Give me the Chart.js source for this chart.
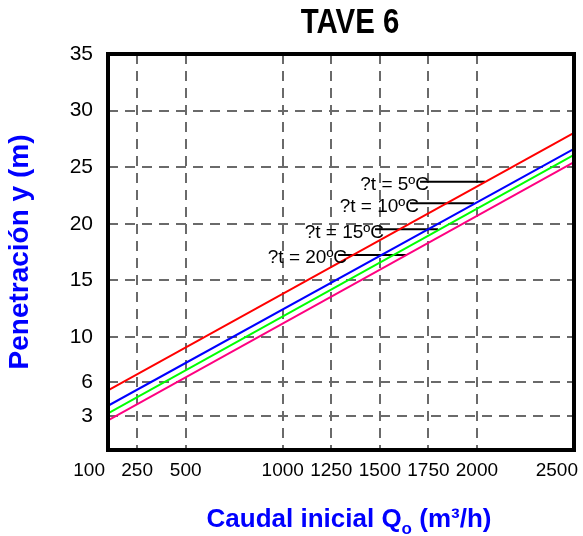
<!DOCTYPE html>
<html>
<head>
<meta charset="utf-8">
<title>TAVE 6</title>
<script src="https://cdn.jsdelivr.net/npm/chart.js@4.4.1/dist/chart.umd.min.js"></script>
<style>
  html, body { margin: 0; padding: 0; background: #fff; }
  #wrap { width: 583px; height: 536px; }
</style>
</head>
<body>
<div id="wrap"><canvas id="taveChart" width="583" height="536"></canvas></div>
<script>
// Chart data
const xTicks = [100, 250, 500, 1000, 1250, 1500, 1750, 2000, 2500];
const yTicks = [3, 6, 10, 15, 20, 25, 30, 35];
const caudalEnds = [100, 2500];
const pen5 = [5.27, 28.03];
const pen10 = [3.91, 26.61];
const pen15 = [3.23, 26.08];
const pen20 = [2.62, 25.44];

// temperature labels with their leader lines
const tempLabels = ['?t = 5ºC', '?t = 10ºC', '?t = 15ºC', '?t = 20ºC'];
const leaderFrom = [1707, 1655, 1475, 1285];
const leaderTo = [2042, 1985, 1800, 1638];
const leaderY = [23.7, 21.8, 19.5, 17.24];

const seriesColors = ['#ff0000', '#0000ff', '#00ff00', '#ff0080'];
const FONT = '"Liberation Sans", Arial, sans-serif';

const toPoints = (xs, ys) => xs.map((x, i) => ({ x: x, y: ys[i] }));

const lineSets = [pen5, pen10, pen15, pen20].map((vals, i) => ({
  label: tempLabels[i],
  data: toPoints(caudalEnds, vals),
  borderColor: seriesColors[i],
  borderWidth: 2,
  pointRadius: 0,
  tension: 0
}));

const leaderSets = tempLabels.map((t, i) => ({
  label: 'leader ' + t,
  data: toPoints([leaderFrom[i], leaderTo[i]], [leaderY[i], leaderY[i]]),
  borderColor: '#000',
  borderWidth: 2,
  pointRadius: 0
}));

// the end labels of the x axis sit right-aligned at the frame, like the original
const isEndTick = v => v === xTicks[0] || v === xTicks[xTicks.length - 1];

// title, frame, x title, x end labels and the temperature texts
const extras = {
  id: 'extras',
  afterDatasetsDraw(chart) {
    const { ctx, chartArea: a, scales: { x, y } } = chart;
    ctx.save();
    ctx.strokeStyle = '#000';
    ctx.lineWidth = 4;
    ctx.strokeRect(a.left, a.top, a.right - a.left, a.bottom - a.top);

    ctx.fillStyle = '#000';
    ctx.font = '19px ' + FONT;
    ctx.textAlign = 'right';
    ctx.textBaseline = 'middle';
    tempLabels.forEach((t, i) => {
      ctx.fillText(t, x.getPixelForValue(leaderFrom[i]) + 9, y.getPixelForValue(leaderY[i]) + 3);
    });

    ctx.textBaseline = 'top';
    ctx.fillText(String(xTicks[0]), x.getPixelForValue(xTicks[0]) - 3, a.bottom + 11);
    ctx.fillText(String(xTicks[xTicks.length - 1]), x.getPixelForValue(xTicks[xTicks.length - 1]) + 4, a.bottom + 11);

    // title, a bit condensed like the original
    ctx.save();
    ctx.textAlign = 'center';
    ctx.textBaseline = 'middle';
    ctx.font = 'bold 35px ' + FONT;
    ctx.translate(350, 23);
    ctx.scale(0.84, 1);
    ctx.fillText('TAVE 6', 0, 0);
    ctx.restore();

    // x axis title with subscript o
    const main1 = 'Caudal inicial Q', sub = 'o', main2 = ' (m³/h)';
    const bigFont = 'bold 26px ' + FONT, subFont = 'bold 17px ' + FONT;
    ctx.font = bigFont;
    const w1 = ctx.measureText(main1).width, w3 = ctx.measureText(main2).width;
    ctx.font = subFont;
    const w2 = ctx.measureText(sub).width;
    const left = 349 - (w1 + w2 + w3) / 2;
    const base = 527;
    ctx.fillStyle = '#0000ff';
    ctx.textAlign = 'left';
    ctx.textBaseline = 'alphabetic';
    ctx.font = bigFont;
    ctx.fillText(main1, left, base);
    ctx.font = subFont;
    ctx.fillText(sub, left + w1, base + 7);
    ctx.font = bigFont;
    ctx.fillText(main2, left + w1 + w2, base);
    ctx.restore();
  }
};

const ctx = document.getElementById('taveChart').getContext('2d');
new Chart(ctx, {
  type: 'line',
  data: { datasets: lineSets.concat(leaderSets) },
  plugins: [extras],
  options: {
    responsive: false,
    animation: false,
    layout: { padding: { top: 54, right: 9, bottom: 0, left: 0 } },
    plugins: {
      legend: { display: false },
      title: { display: false },
      tooltip: { enabled: false }
    },
    scales: {
      x: {
        type: 'linear',
        min: 100,
        max: 2500,
        afterBuildTicks: s => { s.ticks = xTicks.map(v => ({ value: v })); },
        afterFit: s => { s.height = 86; s.paddingLeft = 0; s.paddingRight = 0; },
        grid: { color: '#6a6a6a', lineWidth: 2, drawTicks: false },
        border: { display: false, dash: [10, 7] },
        ticks: {
          color: '#000',
          font: { size: 19, family: FONT },
          padding: 9,
          maxRotation: 0,
          autoSkip: false,
          callback: v => isEndTick(v) ? '' : String(v)
        }
      },
      y: {
        type: 'linear',
        min: 0,
        max: 35,
        afterBuildTicks: s => { s.ticks = yTicks.map(v => ({ value: v })); },
        afterFit: s => { s.width = 108; s.paddingTop = 0; s.paddingBottom = 0; },
        grid: { color: '#6a6a6a', lineWidth: 2, drawTicks: false },
        border: { display: false, dash: [10, 7] },
        ticks: { color: '#000', font: { size: 21, family: FONT }, padding: 15, callback: v => String(v) },
        title: {
          display: true,
          text: 'Penetración y (m)',
          color: '#0000ff',
          font: { size: 28, weight: 'bold', family: FONT },
          padding: { top: 3, bottom: 0 }
        }
      }
    }
  }
});
</script>
</body>
</html>
